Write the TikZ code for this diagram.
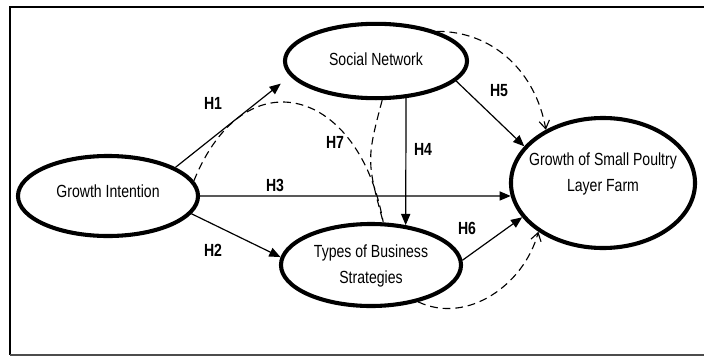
\documentclass[tikz,border=0pt]{standalone}
\usepackage{fontspec}
\setmainfont{Liberation Sans}[FakeStretch=0.8]
\usetikzlibrary{arrows.meta,shapes.geometric}

\begin{document}
\begin{tikzpicture}[x=0.025cm, y=-0.025cm,
  oval/.style={draw, ellipse, line width=2.9pt, inner sep=0pt},
  txt/.style={align=center, font=\fontsize{12.5}{18.4}\selectfont},
  hyp/.style={font=\fontsize{12.5}{15}\selectfont\bfseries},
  arr/.style={-{Triangle[length=2.8mm,width=2.3mm]}, line width=0.85pt},
  dasharr/.style={line width=0.8pt, dash pattern=on 5.5pt off 3.5pt},
  barb/.style={-{Straight Barb[length=2mm,width=2.6mm]}}
]
\useasboundingbox (0,0) rectangle (704,356);

% frame, open on the right
\draw[line width=1.7pt] (704,7) -- (10,7) -- (10,355);
\draw[gray!60!black, line width=1.1pt] (10,355) -- (704,355);

% constructs
\node[oval, minimum width=4.5cm, minimum height=2cm] (gi) at (108,196) {};
\node[txt] (gi-t) at (108,191) {Growth Intention};

\node[oval, minimum width=4.55cm, minimum height=1.86cm] (sn) at (376,61) {};
\node[txt] (sn-t) at (376,59) {Social Network};

\node[oval, minimum width=4.5cm, minimum height=2.05cm] (tbs) at (371,265) {};
\node[txt] (tbs-t) at (371,266) {Types of Business\\Strategies};

\node[oval, minimum width=4.6cm, minimum height=3.25cm] (gsp) at (603,183) {};
\node[txt] (gsp-t) at (603,174) {Growth of Small Poultry\\Layer Farm};

% direct paths
\draw[arr, shorten >=0.3cm] (gi.23) -- (sn.190);
\draw[arr] (gi.-12) -- (tbs.175);
\draw[arr] (gi.east) -- (gsp.188);
\draw[arr] (sn.-51) -- (tbs.49);
\draw[arr] (sn.-14) -- (gsp.155);
\draw[arr] (tbs.3) -- (gsp.203);

% mediated paths
\draw[dasharr, barb] (sn.26) to[out=0, in=100] (gsp.137);
\draw[dasharr, barb] (tbs.-38) to[out=-25, in=-105] (gsp.217);
\draw[dasharr] (gi.10) to[out=68, in=100, looseness=1.8] (tbs.74);
\draw[dasharr] (sn.-81) to[out=-105, in=105, looseness=1.3] (tbs.74);

% hypotheses
\node[hyp] (h1) at (213,103) {H1};
\node[hyp] (h2) at (213,250) {H2};
\node[hyp] (h3) at (275,185) {H3};
\node[hyp] (h4) at (423,149) {H4};
\node[hyp] (h5) at (499,91) {H5};
\node[hyp] (h6) at (467,228) {H6};
\node[hyp] (h7) at (335,142) {H7};

\end{tikzpicture}
\end{document}
